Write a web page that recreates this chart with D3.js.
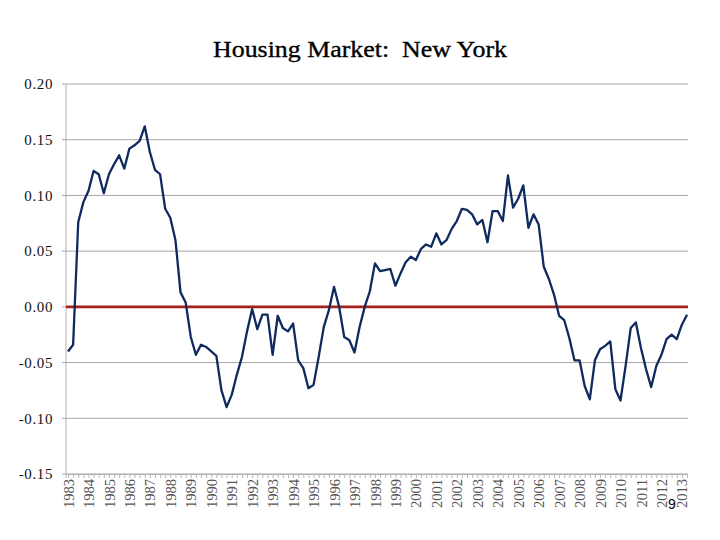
<!DOCTYPE html>
<html>
<head>
<meta charset="utf-8">
<script src="https://cdn.jsdelivr.net/npm/d3@7"></script>
<style>
  body { margin: 0; background: #fff; }
  svg { display: block; }
</style>
</head>
<body>
<svg width="720" height="540"></svg>
<script>
// quarterly series, 1983 Q1 .. 2013 Q2
const START_YEAR = 1983;
const VALUES = [
  -0.040, -0.034, 0.076, 0.094, 0.104, 0.122, 0.119, 0.102,
  0.119, 0.128, 0.136, 0.124, 0.142, 0.145, 0.149, 0.162,
  0.139, 0.123, 0.119, 0.088, 0.080, 0.060, 0.013, 0.004,
  -0.027, -0.043, -0.034, -0.036, -0.040, -0.044, -0.075, -0.090,
  -0.079, -0.061, -0.045, -0.022, -0.002, -0.020, -0.007, -0.007,
  -0.043, -0.008, -0.019, -0.022, -0.015, -0.048, -0.055, -0.073,
  -0.070, -0.045, -0.018, -0.003, 0.018, 0.000, -0.027, -0.030,
  -0.041, -0.018, 0.000, 0.014, 0.039, 0.032, 0.033, 0.034,
  0.019, 0.030, 0.040, 0.045, 0.042, 0.052, 0.056, 0.054,
  0.066, 0.056, 0.060, 0.070, 0.077, 0.088, 0.087, 0.083,
  0.074, 0.078, 0.058, 0.086, 0.086, 0.077, 0.118, 0.089,
  0.097, 0.109, 0.071, 0.083, 0.074, 0.036, 0.025, 0.011,
  -0.008, -0.012, -0.028, -0.048, -0.048, -0.071, -0.083, -0.048,
  -0.038, -0.035, -0.031, -0.074, -0.084, -0.053, -0.019, -0.014,
  -0.037, -0.056, -0.072, -0.053, -0.043, -0.029, -0.025, -0.029,
  -0.016, -0.007
];
const YEAR_LABELS = d3.range(1983, 2014);
const Y_TICKS = [-0.15, -0.10, -0.05, 0.00, 0.05, 0.10, 0.15, 0.20];
const TITLE = 'Housing Market:  New York';

const PLOT = { left: 66, right: 688, top: 84, bottom: 474 };
const SERIF = '"Liberation Serif", "Times New Roman", serif';

const svg = d3.select('svg');

const x = d3.scaleLinear()
  .domain([0, VALUES.length - 1])
  .range([68, 687]);

const y = d3.scaleLinear()
  .domain([-0.15, 0.20])
  .range([PLOT.bottom, PLOT.top]);

// gridlines
svg.append('g')
  .selectAll('line')
  .data(Y_TICKS)
  .enter()
  .append('line')
  .attr('x1', PLOT.left - 4)
  .attr('x2', PLOT.right)
  .attr('y1', d => y(d))
  .attr('y2', d => y(d))
  .attr('stroke', '#a6a6a6')
  .attr('stroke-width', 1);

// y axis
const yAxis = svg.append('g')
  .attr('transform', `translate(${PLOT.left}, 0)`)
  .call(d3.axisLeft(y)
    .tickValues(Y_TICKS)
    .tickFormat(d => d.toFixed(2))
    .tickSize(0)
    .tickPadding(13));
yAxis.select('.domain')
  .attr('stroke', '#b0b0b0')
  .attr('d', `M0,${PLOT.top}V${PLOT.bottom + 4}`);
yAxis.selectAll('text')
  .attr('font-family', SERIF)
  .attr('font-size', 15)
  .attr('letter-spacing', 0.6)
  .attr('fill', '#111');

// x axis: a small tick for every quarter
const xTicks = svg.append('g')
  .attr('transform', `translate(0, ${PLOT.bottom})`)
  .call(d3.axisBottom(x)
    .tickValues(d3.range(VALUES.length))
    .tickFormat('')
    .tickSize(4)
    .tickSizeOuter(0));
xTicks.select('.domain').attr('stroke', '#b0b0b0');
xTicks.selectAll('.tick line').attr('stroke', '#b8b8b8');

// x axis: year labels on each first quarter
const xLabels = svg.append('g')
  .attr('transform', `translate(0, ${PLOT.bottom})`)
  .call(d3.axisBottom(x)
    .tickValues(YEAR_LABELS.map(yr => (yr - START_YEAR) * 4))
    .tickFormat(d => START_YEAR + d / 4)
    .tickSize(0));
xLabels.select('.domain').remove();
xLabels.selectAll('text')
  .attr('font-family', SERIF)
  .attr('font-size', 14.5)
  .attr('fill', '#555')
  .attr('text-anchor', 'end')
  .attr('dy', '0.35em')
  .attr('transform', 'translate(0, 5) rotate(-90)')
  .attr('x', 0)
  .attr('y', 0);

// zero line
svg.append('line')
  .attr('x1', PLOT.left)
  .attr('x2', PLOT.right)
  .attr('y1', y(0))
  .attr('y2', y(0))
  .attr('stroke', '#a3201d')
  .attr('stroke-width', 2.6);

// series
const line = d3.line()
  .x((d, i) => x(i))
  .y(d => y(d));

svg.append('path')
  .datum(VALUES)
  .attr('d', line)
  .attr('fill', 'none')
  .attr('stroke', '#0e2a5e')
  .attr('stroke-width', 2.3)
  .attr('stroke-linejoin', 'round');

// title (source slide is slightly stretched sideways)
svg.append('text')
  .attr('x', 213)
  .attr('y', 57)
  .attr('font-family', SERIF)
  .attr('font-size', 24)
  .attr('textLength', 294)
  .attr('lengthAdjust', 'spacingAndGlyphs')
  .attr('stroke', '#000')
  .attr('stroke-width', 0.35)
  .style('white-space', 'pre')
  .attr('fill', '#000')
  .text(TITLE);

// page number
svg.append('text')
  .attr('x', 672)
  .attr('y', 509)
  .attr('text-anchor', 'middle')
  .attr('font-family', '"Liberation Sans", Arial, sans-serif')
  .attr('font-size', 14)
  .attr('fill', '#000')
  .text('9');
</script>
</body>
</html>
